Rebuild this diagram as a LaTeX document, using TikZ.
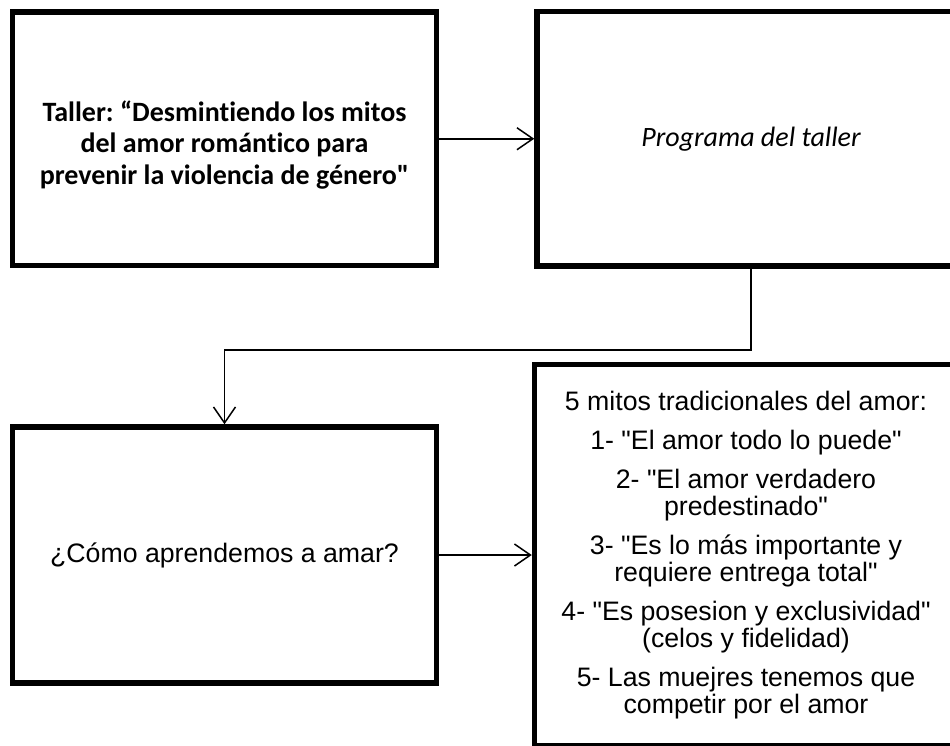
\documentclass[tikz,border=0pt]{standalone}
\usepackage{fontspec}
\setmainfont{Carlito}[Ligatures={TeX,NoCommon}]
\newfontfamily\arialfont{Liberation Sans}[Ligatures=NoCommon]
\usetikzlibrary{arrows.meta}
\frenchspacing

\begin{document}
\begin{tikzpicture}[x=1pt, y=-1pt,
  caja/.style={draw, line width=5.5pt, inner sep=0pt, align=center},
  flecha/.style={line width=1.5pt, -{Straight Barb[length=16pt,width=22pt]}}]
% Page area (boxes on the right run off the page)
\useasboundingbox (0,0) rectangle (950,745);
\clip (0,0) rectangle (950,745);

% Top row
\node[caja, minimum width=424pt, minimum height=253.5pt,
  font=\fontsize{28}{31.5}\selectfont\bfseries] (taller) at (224.5,138.75)
  {\raisebox{-14pt}[0pt][0pt]{\begin{tabular}{@{}c@{}}Taller: “Desmintiendo los mitos\\del amor romántico para\\prevenir la violencia de género\textquotedbl\end{tabular}}};
\node[caja, minimum width=428pt, minimum height=254.5pt,
  font=\fontsize{28}{32}\selectfont\itshape] (programa) at (751,138.75) {Programa del taller};

% Bottom row
\node[caja, minimum width=424pt, minimum height=256pt,
  font=\arialfont\fontsize{26.7}{27}\selectfont] (aprender) at (224.5,555) {¿Cómo aprendemos a amar?};
\node[caja, minimum width=423pt, minimum height=381pt,
  font=\arialfont\fontsize{26.7}{27}\selectfont] (mitos) at (746,555)
  {5 mitos tradicionales del amor:\\[12pt]
   1- "El amor todo lo puede"\\[12pt]
   2- "El amor verdadero\\predestinado"\\[12pt]
   3- "Es lo más importante y\\requiere entrega total"\\[12pt]
   4- "Es posesion y exclusividad"\\(celos y fidelidad)\\[12pt]
   5- Las muejres tenemos que\\competir por el amor};

% Connectors
\draw[flecha] (taller.east) -- (programa.west);
\draw[flecha] (programa.south) -- ++(0,81) -| (aprender.north);
\draw[flecha] (aprender.east) -- (mitos.west |- aprender.east);

\end{tikzpicture}
\end{document}
